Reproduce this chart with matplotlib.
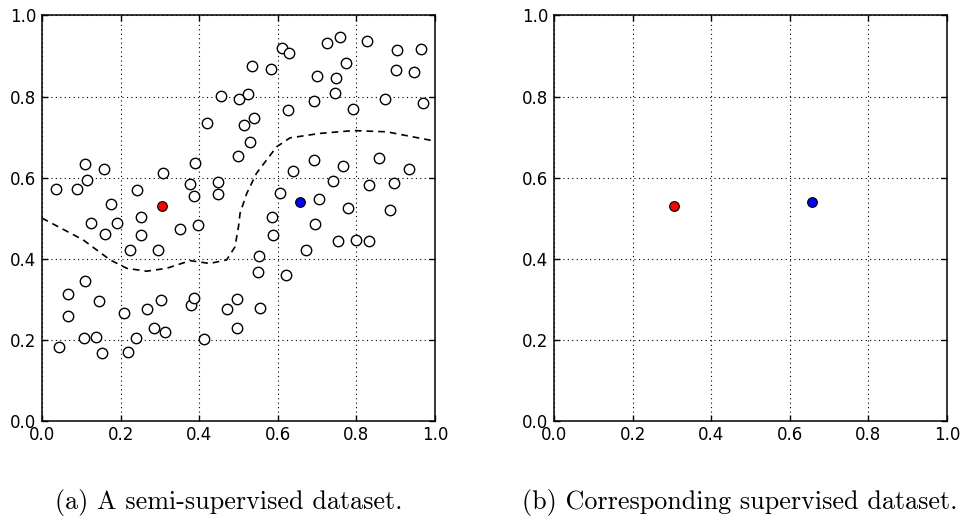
import matplotlib.pyplot as plt
import matplotlib as mpl
import numpy as np

mpl.rcParams['font.size'] = 12

# unlabeled points (panel a)
unlabeled_x = [0.036, 0.089, 0.109, 0.115, 0.158, 0.175, 0.242, 0.308, 0.390, 0.376,
               0.388, 0.447, 0.447, 0.419, 0.455, 0.502, 0.524, 0.535, 0.583, 0.611,
               0.629, 0.626, 0.691, 0.700, 0.725, 0.759, 0.774, 0.748, 0.745, 0.791,
               0.828, 0.904, 0.964, 0.902, 0.947, 0.873, 0.969, 0.515, 0.540, 0.529,
               0.498, 0.639, 0.691, 0.765, 0.740, 0.858, 0.935, 0.832, 0.895, 0.606,
               0.705, 0.779, 0.886, 0.585, 0.589, 0.553, 0.550, 0.620, 0.495, 0.470,
               0.555, 0.495, 0.694, 0.671, 0.753, 0.798, 0.833, 0.043, 0.066, 0.066,
               0.109, 0.106, 0.137, 0.145, 0.153, 0.208, 0.220, 0.239, 0.268, 0.285,
               0.302, 0.313, 0.378, 0.388, 0.413, 0.125, 0.191, 0.160, 0.252, 0.252,
               0.223, 0.294, 0.350, 0.396]
unlabeled_y = [0.573, 0.573, 0.633, 0.594, 0.622, 0.535, 0.569, 0.611, 0.636, 0.584,
               0.554, 0.589, 0.559, 0.735, 0.801, 0.794, 0.807, 0.876, 0.868, 0.921,
               0.907, 0.766, 0.788, 0.851, 0.931, 0.948, 0.882, 0.846, 0.809, 0.769,
               0.936, 0.914, 0.917, 0.865, 0.860, 0.794, 0.785, 0.730, 0.746, 0.689,
               0.653, 0.617, 0.644, 0.629, 0.592, 0.648, 0.620, 0.582, 0.587, 0.563,
               0.548, 0.524, 0.520, 0.503, 0.458, 0.407, 0.367, 0.360, 0.300, 0.276,
               0.279, 0.229, 0.485, 0.421, 0.443, 0.446, 0.443, 0.183, 0.313, 0.258,
               0.344, 0.204, 0.207, 0.295, 0.168, 0.265, 0.170, 0.204, 0.276, 0.229,
               0.298, 0.218, 0.285, 0.304, 0.201, 0.487, 0.488, 0.461, 0.502, 0.458,
               0.421, 0.421, 0.474, 0.482]

# labeled points
red_point = (0.306, 0.530)
blue_point = (0.657, 0.540)

# decision boundary (dashed)
boundary_x = [0.0, 0.105, 0.173, 0.216, 0.266, 0.317, 0.377, 0.427, 0.470, 0.491,
              0.500, 0.504, 0.521, 0.546, 0.572, 0.597, 0.631, 0.707, 0.792, 0.877, 1.0]
boundary_y = [0.500, 0.446, 0.397, 0.376, 0.369, 0.376, 0.395, 0.388, 0.397, 0.429,
              0.479, 0.512, 0.561, 0.611, 0.644, 0.676, 0.698, 0.709, 0.716, 0.713, 0.690]

ticks = [0.0, 0.2, 0.4, 0.6, 0.8, 1.0]
captions = ['(a) A semi-supervised dataset.', '(b) Corresponding supervised dataset.']


def style_axes(ax):
    ax.set_xlim(0, 1)
    ax.set_ylim(0, 1)
    ax.set_xticks(ticks)
    ax.set_yticks(ticks)
    ax.set_xticklabels([f'{t:.1f}' for t in ticks])
    ax.set_yticklabels([f'{t:.1f}' for t in ticks])
    ax.tick_params(direction='in', top=True, right=True, length=4, width=1, pad=4, labelsize=12)
    ax.grid(True, color='black', linestyle=(0, (1, 3)), linewidth=0.8)
    ax.set_axisbelow(True)
    for s in ax.spines.values():
        s.set_linewidth(1.1)


def plot_labeled(ax):
    ax.plot(*red_point, 'o', color='red', markeredgecolor='black', markersize=7, markeredgewidth=0.8, zorder=4)
    ax.plot(*blue_point, 'o', color='blue', markeredgecolor='black', markersize=7, markeredgewidth=0.8, zorder=4)


fig = plt.figure(figsize=(9.61, 5.16), dpi=100)
ax1 = fig.add_axes([42 / 961, 1 - 420.7 / 516, 393 / 961, 405.2 / 516])
ax2 = fig.add_axes([554 / 961, 1 - 420.7 / 516, 393 / 961, 405.2 / 516])

style_axes(ax1)
ax1.plot(boundary_x, boundary_y, color='black', linestyle=(0, (4, 3)), linewidth=1.2, zorder=2)
ax1.plot(unlabeled_x, unlabeled_y, 'o', markerfacecolor='white', markeredgecolor='black',
         markersize=7.5, markeredgewidth=1.0, linestyle='none', zorder=3)
plot_labeled(ax1)

style_axes(ax2)
plot_labeled(ax2)

# subfigure captions
fig.text(55 / 961, 1 - 509 / 516, captions[0], family='cmr10', fontsize=18.8, ha='left', va='baseline')
fig.text(522 / 961, 1 - 509 / 516, captions[1], family='cmr10', fontsize=18.8, ha='left', va='baseline')

plt.savefig('out.png', dpi=100)
